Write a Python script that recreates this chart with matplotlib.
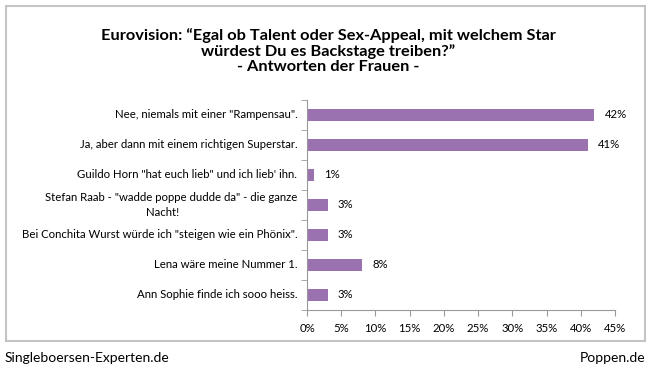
import matplotlib.pyplot as plt
from matplotlib.patches import Rectangle

plt.rcParams['font.family'] = ['Lato', 'DejaVu Sans']

# Antworten und Anteile (in Prozent)
answers = [
    'Nee, niemals mit einer "Rampensau".',
    'Ja, aber dann mit einem richtigen Superstar.',
    'Guildo Horn "hat euch lieb" und ich lieb\' ihn.',
    'Stefan Raab - "wadde poppe dudde da" - die ganze\nNacht!',
    'Bei Conchita Wurst würde ich "steigen wie ein Phönix".',
    'Lena wäre meine Nummer 1.',
    'Ann Sophie finde ich sooo heiss.',
]
shares = [42, 41, 1, 3, 3, 8, 3]
xticks = [0, 5, 10, 15, 20, 25, 30, 35, 40, 45]

title = ('Eurovision: \u201cEgal ob Talent oder Sex-Appeal, mit welchem Star\n'
         'würdest Du es Backstage treiben?\u201d\n- Antworten der Frauen -')

fig = plt.figure(figsize=(6.51, 3.77), dpi=100)
fig.patch.set_facecolor('white')

# Rahmen um das Diagramm
fig.patches.append(Rectangle((6 / 651, 1 - 341 / 377), 639 / 651, 335 / 377,
                             transform=fig.transFigure, fill=False,
                             edgecolor='#c4c4c4', linewidth=1.5))

ax = fig.add_axes([307 / 651, 1 - 310 / 377, 308 / 651, 210 / 377])
ypos = list(range(len(answers)))
ax.barh(ypos, shares, height=0.42, color='#9b72b0')
ax.set_ylim(len(answers) - 0.5, -0.5)
ax.set_xlim(0, 45)

ax.set_yticks(ypos)
ax.set_yticklabels([''] * len(answers))
ax.set_yticks([i + 0.5 for i in range(-1, len(answers))], minor=True)
ax.tick_params(axis='y', which='major', length=0)
ax.tick_params(axis='y', which='minor', length=4, color='#999999')

ax.set_xticks(xticks)
ax.set_xticklabels([f'{v}%' for v in xticks], fontsize=8.2)
ax.tick_params(axis='x', length=4, color='#999999', pad=5)

for s in ['top', 'right']:
    ax.spines[s].set_visible(False)
for s in ['left', 'bottom']:
    ax.spines[s].set_color('#999999')

# Kategorien als eigene Texte; die zweite Zeile wird mittig gesetzt
ytr = ax.get_yaxis_transform()
for y, a in zip(ypos, answers):
    lines = a.split('\n')
    if len(lines) == 1:
        ax.annotate(a, xy=(0, y), xycoords=ytr, xytext=(-7, 0),
                    textcoords='offset points', ha='right', va='center',
                    fontsize=8.2)
        continue
    ax.annotate(lines[0], xy=(0, y), xycoords=ytr, xytext=(-7, 5.4),
                textcoords='offset points', ha='right', va='center',
                fontsize=8.2)
    ax.annotate(lines[1], xy=(0, y), xycoords=ytr, xytext=(-104, -5.4),
                textcoords='offset points', ha='center', va='center',
                fontsize=8.2)

for y, v in zip(ypos, shares):
    ax.text(v + 1.5, y, f'{v}%', va='center', ha='left', fontsize=8.2)

fig.text(328 / 651, 1 - 51 / 377, title, ha='center', va='center',
         fontsize=11.8, fontweight='bold', linespacing=1.1)

fig.text(5 / 651, 1 - 358 / 377, 'Singleboersen-Experten.de', ha='left',
         va='center', fontsize=10)
fig.text(645 / 651, 1 - 358 / 377, 'Poppen.de', ha='right',
         va='center', fontsize=10)

fig.savefig('out.png', dpi=100)
